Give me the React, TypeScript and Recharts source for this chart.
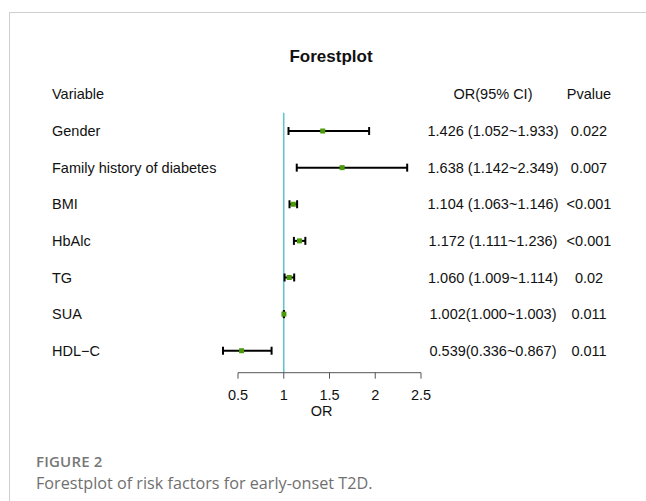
import React from "react";
import {
  ScatterChart,
  Scatter,
  XAxis,
  YAxis,
  ErrorBar,
  ReferenceLine,
} from "recharts";

const variables = ["Gender", "Family history of diabetes", "BMI", "HbAlc", "TG", "SUA", "HDL\u2212C"];
const orValues = [1.426, 1.638, 1.104, 1.172, 1.06, 1.002, 0.539];
const ciLower = [1.052, 1.142, 1.063, 1.111, 1.009, 1.0, 0.336];
const ciUpper = [1.933, 2.349, 1.146, 1.236, 1.114, 1.003, 0.867];
const ciLabels = [
  "1.426 (1.052~1.933)",
  "1.638 (1.142~2.349)",
  "1.104 (1.063~1.146)",
  "1.172 (1.111~1.236)",
  "1.060 (1.009~1.114)",
  "1.002(1.000~1.003)",
  "0.539(0.336~0.867)",
];
const pValues = ["0.022", "0.007", "<0.001", "<0.001", "0.02", "0.011", "0.011"];
const xTicks = [0.5, 1, 1.5, 2, 2.5];
const rowTicks = [-1, 0, 1, 2, 3, 4, 5, 6];

const rows = variables.map((name, i) => ({
  name,
  row: i,
  or: orValues[i],
  err: [orValues[i] - ciLower[i], ciUpper[i] - orValues[i]],
}));

const FONT = "'Liberation Sans', Arial, sans-serif";
const FS = 14.5;

const LeftTick = (props: any) => {
  const { y, payload } = props;
  const i = payload.value;
  const label = i < 0 ? "Variable" : variables[i];
  return (
    <text x={52} y={y} dy="0.35em" textAnchor="start" fontFamily={FONT} fontSize={FS} fill="#111">
      {label}
    </text>
  );
};

const RightTick = (props: any) => {
  const { x, y, payload } = props;
  const i = payload.value;
  const ci = i < 0 ? "OR(95% CI)" : ciLabels[i];
  const p = i < 0 ? "Pvalue" : pValues[i];
  return (
    <g>
      <text x={x + 64} y={y} dy="0.35em" textAnchor="middle" fontFamily={FONT} fontSize={FS} fill="#111">
        {ci}
      </text>
      <text x={x + 160} y={y} dy="0.35em" textAnchor="middle" fontFamily={FONT} fontSize={FS} fill="#111">
        {p}
      </text>
    </g>
  );
};

const Marker = (props: any) => {
  const { cx, cy } = props;
  return <rect x={cx - 2.5} y={cy - 2.5} width={5} height={5} fill="#4a9a0c" />;
};

const OrLabel = (props: any) => {
  const { viewBox } = props;
  const { x, width } = viewBox;
  return (
    <text x={x + width / 2 - 8} y={373 + 43} textAnchor="middle" fontFamily={FONT} fontSize={FS} fill="#111">
      OR
    </text>
  );
};

export default function App() {
  return (
    <div style={{ position: "absolute", left: 0, top: 0, width: 646, height: 501, background: "#fff", overflow: "hidden" }}>
      <div style={{ position: "absolute", left: 9, top: 12, width: 637, height: 1, background: "#cfcfcf" }} />
      <div style={{ position: "absolute", left: 9, top: 12, width: 1, height: 489, background: "#cfcfcf" }} />
      <div
        style={{
          position: "absolute",
          left: 231,
          width: 200,
          top: 47,
          textAlign: "center",
          fontFamily: FONT,
          fontWeight: "bold",
          fontSize: 17,
          color: "#111",
        }}
      >
        Forestplot
      </div>
      <div style={{ position: "absolute", left: 0, top: 0 }}>
        <ScatterChart width={646} height={501} margin={{ top: 94.4, right: 0, left: 0, bottom: 0 }}>
          <XAxis
            type="number"
            dataKey="or"
            domain={[0.5, 2.5]}
            ticks={xTicks}
            allowDataOverflow
            height={128.3}
            axisLine={{ stroke: "#555" }}
            tickLine={{ stroke: "#555" }}
            tickSize={6}
            tickMargin={11}
            tick={{ fill: "#111", fontSize: FS, fontFamily: FONT }}
            label={<OrLabel />}
          />
          <YAxis
            yAxisId="left"
            type="number"
            dataKey="row"
            domain={[-1, 6.6]}
            ticks={rowTicks}
            reversed
            width={238}
            axisLine={false}
            tickLine={false}
            tick={<LeftTick />}
            allowDataOverflow
          />
          <YAxis
            yAxisId="right"
            orientation="right"
            type="number"
            dataKey="row"
            domain={[-1, 6.6]}
            ticks={rowTicks}
            reversed
            width={225}
            axisLine={false}
            tickLine={false}
            tick={<RightTick />}
            allowDataOverflow
          />
          <ReferenceLine
            yAxisId="left"
            segment={[
              { x: 1, y: -0.5 },
              { x: 1, y: 6.6 },
            ]}
            stroke="#5ec5ce"
            strokeWidth={1.5}
          />
          <Scatter yAxisId="left" data={rows} shape={<Marker />} isAnimationActive={false}>
            <ErrorBar dataKey="err" direction="x" width={4} strokeWidth={2} stroke="#000" />
          </Scatter>
        </ScatterChart>
      </div>
      <div
        style={{
          position: "absolute",
          left: 36,
          top: 451,
          fontFamily: "'Open Sans', sans-serif",
          fontWeight: 600,
          fontSize: 15,
          color: "#777",
          letterSpacing: 0.2,
        }}
      >
        FIGURE 2
      </div>
      <div
        style={{
          position: "absolute",
          left: 36,
          top: 472,
          fontFamily: "'Open Sans', sans-serif",
          fontSize: 16.2,
          color: "#707070",
          whiteSpace: "nowrap",
        }}
      >
        Forestplot of risk factors for early-onset T2D.
      </div>
    </div>
  );
}
